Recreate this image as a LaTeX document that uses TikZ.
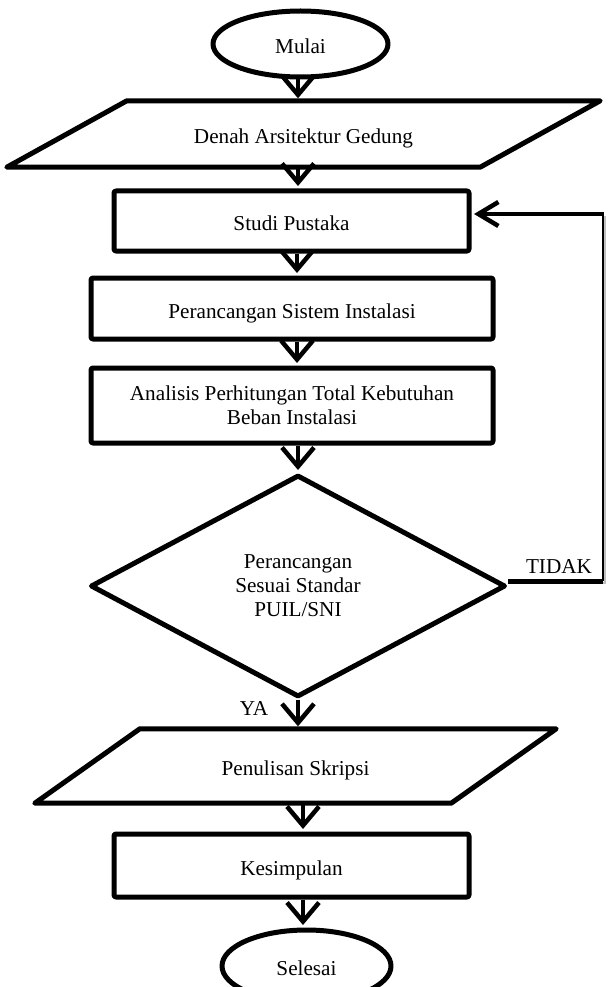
\documentclass[tikz,border=0pt]{standalone}
\usepackage{fontspec}
\setmainfont{Liberation Serif}
\usetikzlibrary{shapes.geometric,arrows.meta,calc}
\begin{document}
\begin{tikzpicture}[x=1pt,y=-1pt,
  every node/.style={font=\fontsize{21.2pt}{24pt}\selectfont, inner sep=0pt},
  tx/.style={text height=19pt, text depth=0pt},
  ln/.style={line width=5pt, line join=round},
  stepbox/.style n args={2}{draw, rectangle, ln, rounded corners=2pt, minimum width=#1, minimum height=#2},
  term/.style n args={2}{draw, ellipse, ln, minimum width=#1, minimum height=#2, tx},
  iobox/.style n args={2}{rectangle, minimum width=#1, minimum height=#2},
  decision/.style={draw, diamond, ln, aspect=1.87, minimum width=415pt, minimum height=222pt, align=center},
  arr/.style={line width=4.5pt, line join=round, -{Straight Barb[length=19pt,width=32pt]}, shorten >=2.5pt},
  fbarr/.style={line width=4.5pt, line join=round, -{Straight Barb[length=20pt,width=24pt]}, shorten >=2.5pt},
  shadowline/.style={black!25, line width=2.5pt}
]
\useasboundingbox (0,0) rectangle (608,987);
\clip (0,0) rectangle (608,987);

% nodes
\node[term={175pt}{66pt}] (mulai) at (300.5,44) {Mulai};
\node[iobox={473pt}{66pt}, tx] (denah) at (303.5,134) {Denah Arsitektur Gedung};
\node[stepbox={355pt}{60pt}, tx] (studi) at (291.5,221) {Studi Pustaka};
\node[stepbox={402pt}{61pt}, tx] (rancang) at (292,308.5) {Perancangan Sistem Instalasi};
\node[stepbox={402pt}{75pt}, align=center] (analisis) at (292,405.5) {Analisis Perhitungan Total Kebutuhan\\Beban Instalasi};
\node[decision] (dia) at (298,586) {Perancangan\\Sesuai Standar\\PUIL/SNI};
\node[iobox={416pt}{74pt}, tx] (tulis) at (295.5,766) {Penulisan Skripsi};
\node[stepbox={355pt}{63pt}, tx] (simpul) at (291.5,865.5) {Kesimpulan};
\node[term={169pt}{72pt}] (selesai) at (306.5,966) {Selesai};
\node (tidak) at (559,566.5) {TIDAK};
\node (ya) at (254,708.5) {YA};

% parallelograms
\draw[ln] ([xshift=60pt]denah.north west) -- ([xshift=60pt]denah.north east)
  -- ([xshift=-60pt]denah.south east) -- ([xshift=-60pt]denah.south west) -- cycle;
\draw[ln] ([xshift=52.5pt]tulis.north west) -- ([xshift=52.5pt]tulis.north east)
  -- ([xshift=-52.5pt]tulis.south east) -- ([xshift=-52.5pt]tulis.south west) -- cycle;

% arrow columns
\coordinate (xa) at (298,0);
\coordinate (xb) at (297,0);
\coordinate (xc) at (303,0);

\draw[arr] (mulai.south -| xa) -- (denah.north -| xa);
\draw[arr] (denah.south -| xa) -- (studi.north -| xa);
\draw[arr] (studi.south -| xb) -- (rancang.north -| xb);
\draw[arr] (rancang.south -| xb) -- (analisis.north -| xb);
\draw[arr] (analisis.south -| xa) -- (dia.north);
\draw[arr] (dia.south) -- (tulis.north -| xa);
\draw[arr] (tulis.south -| xc) -- (simpul.north -| xc);
\draw[arr] (simpul.south -| xc) -- (selesai.north -| xc);

% feedback loop
\coordinate (fbr) at (603,581);
\coordinate (fbt) at (603,214);
\draw[shadowline] ($(fbt)+(2,2)$) -- ($(fbr)+(2,2)$) -- ($(dia.east |- fbr)+(6,2)$);
\draw[line width=5pt] (dia.east |- fbr) -- (fbr);
\draw[line width=1.6pt] (fbr) -- (fbt);
\draw[fbarr] ([xshift=0.8pt]fbt) -- (studi.east |- fbt);
\end{tikzpicture}
\end{document}
